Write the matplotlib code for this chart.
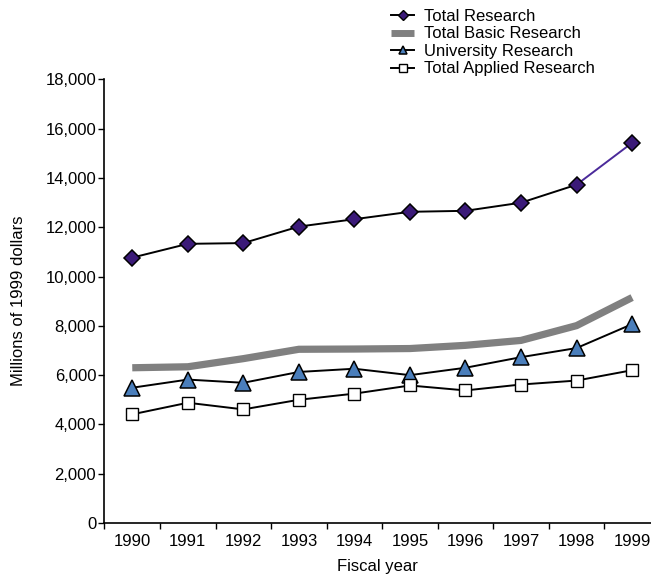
import matplotlib
matplotlib.use("Agg")
import matplotlib.pyplot as plt
import numpy as np
from matplotlib.ticker import FuncFormatter, FixedLocator

plt.rcParams['font.family'] = ['Liberation Sans', 'DejaVu Sans']

# data (millions of 1999 dollars)
years = ['1990', '1991', '1992', '1993', '1994', '1995', '1996', '1997', '1998', '1999']
total_research = [10770, 11330, 11360, 12030, 12330, 12630, 12670, 13000, 13730, 15430]
total_basic = [6300, 6340, 6670, 7050, 7060, 7080, 7210, 7410, 8010, 9150]
university = [5490, 5820, 5690, 6130, 6260, 6000, 6300, 6730, 7100, 8070]
total_applied = [4410, 4880, 4610, 5000, 5250, 5580, 5380, 5620, 5780, 6200]

x = np.arange(len(years))

fig = plt.figure(figsize=(6.51, 5.74), dpi=100)
ax = fig.add_axes([0.1605, 0.0889, 0.8395, 0.7726])

# total research: black line, last segment purple
ax.plot(x[:-1], total_research[:-1], color='black', lw=1.4, zorder=3)
ax.plot(x[-2:], total_research[-2:], color='#4b2a9a', lw=1.4, zorder=3)
ax.plot(x, total_research, ls='none', marker='D', ms=8.5, mfc='#3b1a78',
        mec='black', mew=1.1, zorder=4)
h1, = ax.plot([], [], color='black', lw=1.4, marker='D', ms=5, mfc='#3b1a78',
              mec='black', mew=1.0)

h2, = ax.plot(x, total_basic, color='#808080', lw=5.2, solid_capstyle='butt',
              solid_joinstyle='miter', zorder=2)

h3, = ax.plot(x, university, color='black', lw=1.4, marker='^', ms=11,
              mfc='#4a7ebb', mec='black', mew=1.1, zorder=3)

h4, = ax.plot(x, total_applied, color='black', lw=1.4, marker='s', ms=9,
              mfc='white', mec='black', mew=1.0, zorder=3)

ax.set_xlim(-0.5, 9.34)
ax.set_ylim(0, 18000)

ax.set_yticks(np.arange(0, 18001, 2000))
ax.yaxis.set_major_formatter(FuncFormatter(lambda v, p: f'{int(v):,}'))
ax.set_xticks(x)
ax.set_xticklabels(years)
ax.xaxis.set_minor_locator(FixedLocator(np.arange(-0.5, 9.0, 1.0)))
ax.tick_params(axis='x', which='major', length=0, pad=8, labelsize=12)
ax.tick_params(axis='x', which='minor', length=4, width=1, direction='out')
ax.tick_params(axis='y', length=4, width=1, direction='out', labelsize=12, pad=2)

for s in ['top', 'right']:
    ax.spines[s].set_visible(False)
ax.spines['left'].set_linewidth(1.2)
ax.spines['bottom'].set_linewidth(1.2)

ax.set_xlabel('Fiscal year', fontsize=12, labelpad=7)
ax.set_ylabel('Millions of 1999 dollars', fontsize=12, labelpad=14)

leg = fig.legend([h1, h2, h3, h4],
                 ['Total Research', 'Total Basic Research',
                  'University Research', 'Total Applied Research'],
                 loc='upper left', bbox_to_anchor=(391 / 651, 1 - 9 / 574),
                 frameon=False, fontsize=12, handlelength=1.4,
                 handletextpad=0.6, labelspacing=0.15, borderpad=0.0,
                 borderaxespad=0.0)
leg.legend_handles[1].set_linewidth(5)
leg.legend_handles[2].set_markersize(6)
leg.legend_handles[3].set_markersize(6)

fig.savefig('out.png', dpi=100)
